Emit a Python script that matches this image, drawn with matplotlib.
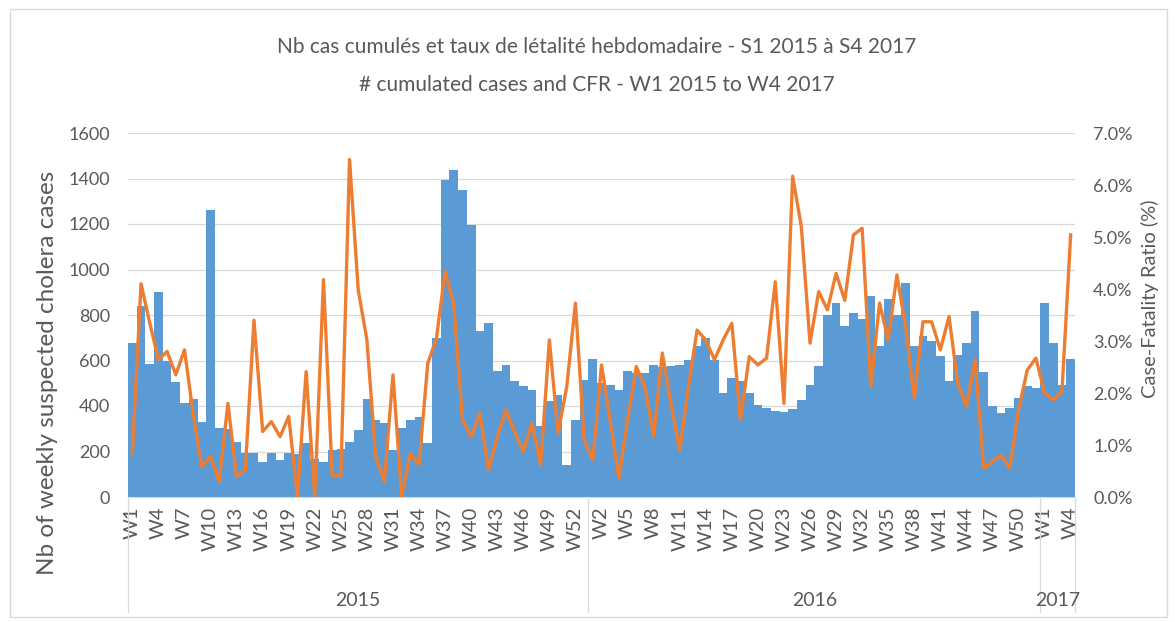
import matplotlib
matplotlib.use("Agg")
import matplotlib.pyplot as plt
import matplotlib.transforms as mtransforms
from matplotlib.patches import Rectangle

# ---- data ----
years = ["2015", "2016", "2017"]
weeks_per_year = [53, 52, 4]

cases_2015 = [675, 840, 585, 900, 600, 507, 415, 430, 331, 1260,
              302, 300, 243, 195, 195, 155, 195, 163, 192, 190,
              239, 165, 155, 205, 210, 240, 295, 430, 339, 324,
              207, 302, 339, 353, 236, 700, 1395, 1439, 1348, 1197,
              728, 767, 556, 581, 508, 486, 471, 310, 420, 449,
              141, 339, 515]
cases_2016 = [606, 500, 493, 471, 556, 544, 544, 581, 571, 574,
              581, 603, 662, 698, 603, 456, 522, 508, 456, 405,
              390, 380, 375, 386, 427, 493, 574, 801, 852, 750,
              808, 782, 882, 662, 870, 800, 940, 662, 706, 684,
              618, 508, 625, 676, 816, 549, 398, 368, 390, 437,
              486, 478]
cases_2017 = [852, 679, 493, 607]

cfr_2015 = [0.84, 4.10, 3.35, 2.64, 2.80, 2.35, 2.83, 1.60, 0.58, 0.78,
            0.30, 1.80, 0.39, 0.52, 3.40, 1.26, 1.45, 1.16, 1.55, 0.00,
            2.41, 0.00, 4.18, 0.42, 0.40, 6.49, 3.98, 3.02, 0.78, 0.30,
            2.35, 0.00, 0.84, 0.62, 2.57, 3.05, 4.34, 3.70, 1.48, 1.16,
            1.61, 0.52, 1.16, 1.67, 1.26, 0.87, 1.42, 0.62, 3.02, 1.23,
            2.12, 3.73, 1.10]
cfr_2016 = [0.71, 2.54, 1.48, 0.36, 1.48, 2.51, 2.12, 1.16, 2.77, 1.80,
            0.90, 2.12, 3.21, 3.02, 2.64, 3.02, 3.34, 1.48, 2.70, 2.54,
            2.67, 4.14, 1.80, 6.17, 5.20, 2.96, 3.95, 3.60, 4.30, 3.78,
            5.04, 5.17, 2.12, 3.73, 3.02, 4.27, 3.28, 1.90, 3.37, 3.37,
            2.83, 3.47, 2.19, 1.74, 2.64, 0.55, 0.68, 0.81, 0.55, 1.67,
            2.44, 2.67]
cfr_2017 = [2.00, 1.87, 2.03, 5.04]

title_l1 = "Nb cas cumulés et taux de létalité hebdomadaire - S1 2015 à S4 2017"
title_l2 = "# cumulated cases and CFR - W1 2015 to W4 2017"
ylabel_left = "Nb of weekly suspected cholera cases"
ylabel_right = "Case-Fatality Ratio (%)"

# ---- derived ----
cases = cases_2015 + cases_2016 + cases_2017
cfr = cfr_2015 + cfr_2016 + cfr_2017
week_nums = []
for n in weeks_per_year:
    week_nums += list(range(1, n + 1))
x = list(range(len(cases)))

FONT = ["Lato", "DejaVu Sans"]
GREY = "#595959"
BLUE = "#5B9BD5"
ORANGE = "#ED7D31"
GRID = "#D9D9D9"

fig = plt.figure(figsize=(11.75, 6.22), dpi=100)
W, H = 1175, 622
L, R, T, B = 128, 1075, 133, 497
ax = fig.add_axes([L / W, 1 - B / H, (R - L) / W, (B - T) / H])
ax2 = ax.twinx()

ax.bar(x, cases, width=1.0, color=BLUE, zorder=2)
ax.set_xlim(-0.5, len(cases) - 0.5)
ax.set_ylim(0, 1600)
ax.set_yticks(range(0, 1601, 200))
ax.yaxis.grid(True, color=GRID, lw=0.9)
ax.set_axisbelow(True)

ax2.plot(x, cfr, color=ORANGE, lw=2.4, solid_joinstyle="round", zorder=3)
ax2.set_ylim(0, 7)
ax2.set_yticks(range(0, 8))
ax2.set_yticklabels([f"{v:.1f}%" for v in range(0, 8)])

for a in (ax, ax2):
    for s in a.spines.values():
        s.set_visible(False)
ax.spines["bottom"].set_visible(True)
ax.spines["bottom"].set_color(GRID)

ax.tick_params(axis="y", length=0, pad=13, labelcolor=GREY, labelsize=13)
ax2.tick_params(axis="y", length=0, pad=13, labelcolor=GREY, labelsize=13)
for lab in ax.get_yticklabels() + ax2.get_yticklabels():
    lab.set_family(FONT)

tick_idx = list(range(0, len(cases), 3))
ax.set_xticks(tick_idx)
ax.set_xticklabels([f"W{week_nums[i]}" for i in tick_idx], rotation=90,
                   family=FONT, fontsize=14.5, color=GREY)
ax.tick_params(axis="x", length=0, pad=7)

# year level of category axis
trans = mtransforms.blended_transform_factory(ax.transData, ax.transAxes)
bounds = [-0.5]
for n in weeks_per_year:
    bounds.append(bounds[-1] + n)
for bx in bounds:
    ax.plot([bx, bx], [0, -0.316], transform=trans, color=GRID, lw=0.9,
            clip_on=False)
for yr, a0, a1 in zip(years, bounds[:-1], bounds[1:]):
    ax.text((a0 + a1) / 2, -0.285, yr, transform=trans, ha="center",
            va="center", family=FONT, fontsize=14, color=GREY)

ax.set_ylabel(ylabel_left, family=FONT, fontsize=17.5, color=GREY)
ax.yaxis.set_label_coords(-0.074, 0.34)
ax2.set_ylabel(ylabel_right, family=FONT, fontsize=14.5, color=GREY,
               rotation=90)
ax2.yaxis.set_label_coords(1.07, 0.545)

fig.text(597 / W, 1 - 47 / H, title_l1, ha="center", va="center",
         family=FONT, fontsize=15, color=GREY)
fig.text(597 / W, 1 - 85 / H, title_l2, ha="center", va="center",
         family=FONT, fontsize=15, color=GREY)

fig.patches.append(Rectangle((10 / W, 5 / H), 1157 / W, 608 / H,
                             transform=fig.transFigure, fill=False,
                             edgecolor=GRID, lw=1.0))

fig.savefig("out.png", dpi=100, facecolor="white")
